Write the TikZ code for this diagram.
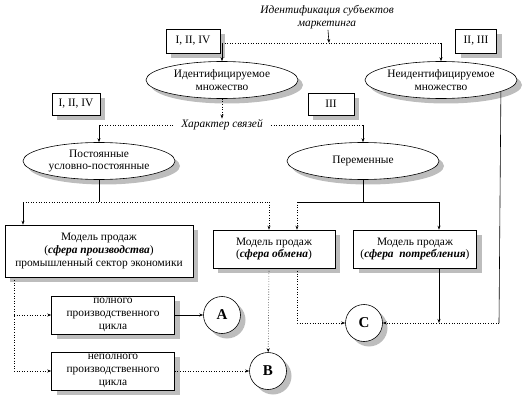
\documentclass[tikz,border=0pt]{standalone}
\usepackage{fontspec}
\setmainfont{Liberation Serif}
\usetikzlibrary{positioning,arrows.meta,shapes.geometric,shadows,calc}
\definecolor{ink}{HTML}{000000}
\definecolor{shadowgray}{HTML}{BDBDBD}
\tikzset{
  font=\fontsize{11.4}{12.6}\selectfont,
  >={Stealth[length=4pt,width=3pt]},
  flow/.style={->, line width=0.6pt, draw=ink},
  dflow/.style={flow, dotted},
  link/.style={line width=0.6pt, draw=ink},
  dlink/.style={link, dotted},
  castshadow/.style={drop shadow={shadow xshift=5pt, shadow yshift=-5pt, fill=shadowgray, opacity=1}},
  box/.style={draw=ink, line width=0.6pt, fill=white, align=center, inner sep=1pt, castshadow},
  tagbox/.style={box, minimum height=24pt},
  set/.style={ellipse, draw=ink, line width=0.6pt, fill=white, align=center, inner sep=0pt,
              minimum width=152pt, minimum height=37pt, castshadow},
  hub/.style={circle, draw=ink, line width=0.6pt, fill=white, minimum size=37pt, inner sep=0pt,
              font=\fontsize{15}{17}\selectfont\bfseries, castshadow},
  note/.style={font=\fontsize{11.4}{12.6}\selectfont\itshape, align=center, inner sep=1pt},
}
\newcommand{\sph}[1]{(\textbf{\textit{#1}})}

\begin{document}
\begin{tikzpicture}[x=1pt, y=-1pt]
\useasboundingbox (0,0) rectangle (525,409);

% --- subjects of marketing ---------------------------------------------------------------
\node[note] (subj) at (327,17) {Идентификация субъектов\\маркетинга};
\node[tagbox, minimum width=54pt] (tagA) at (193,41) {I, II, IV};
\node[tagbox, minimum width=41pt] (tagB) at (476,41) {II, III};
\node[set] (idset) at (222,80) {Идентифицируемое\\множество};
\node[set] (nidset) at (441,80) {Неидентифицируемое\\множество};

% --- character of links ------------------------------------------------------------------
\node[tagbox, minimum width=48pt, minimum height=22pt] (tagC) at (76,104) {I, II, IV};
\node[tagbox, minimum width=46pt, minimum height=22pt] (tagD) at (331,104) {III};
\node[note, inner xsep=8pt] (links) at (222,125) {Характер связей};
\node[set] (const) at (99,161) {Постоянные\\условно-постоянные};
\node[set] (var) at (363,161) {Переменные};

% --- sales models ------------------------------------------------------------------------
\node[box, minimum width=188pt, minimum height=52pt] (prod) at (99,251)
  {Модель продаж\\\sph{сфера производства}\\промышленный сектор экономики};
\node[box, minimum width=122pt, minimum height=38pt] (exch) at (274,249)
  {Модель продаж\\\sph{сфера обмена}};
\node[box, minimum width=123pt, minimum height=38pt] (cons) at (415,249)
  {Модель продаж\\\sph{сфера\enspace потребления}};
\node[box, minimum width=123pt, minimum height=38pt] (full) at (113,315)
  {полного\\производственного\\цикла};
\node[box, minimum width=123pt, minimum height=38pt] (part) at (113,371)
  {неполного\\производственного\\цикла};
\node[hub] (hA) at (222,315) {A};
\node[hub] (hB) at (268,371) {B};
\node[hub] (hC) at (364,323) {C};

% --- top split ---------------------------------------------------------------------------
\coordinate (topbus) at (329,43);
\draw[flow] (subj) -- (topbus);
\draw[dlink] (idset.north |- topbus) -- (nidset.north |- topbus);
\draw[flow] (idset.north |- topbus) -- (idset.north);
\draw[flow] (nidset.north |- topbus) -- (nidset.north);

% --- second split ------------------------------------------------------------------------
\draw[dflow] (idset) -- (links);
\draw[dlink] (links.west) -- (const.north |- links.west);
\draw[dlink] (links.east) -- (var.north |- links.east);
\draw[flow] (const.north |- links.west) -- (const.north);
\draw[flow] (var.north |- links.east) -- (var.north);

% --- to the sales models -----------------------------------------------------------------
\coordinate (lbus) at (99,202);
\coordinate (lfork) at (23,202);
\coordinate (rfork) at (269,202);
\draw[link] (const) -- (lbus);
\draw[dlink] (lfork) -- (rfork);
\draw[flow] (lfork) -- (lfork |- prod.north);
\draw[dflow] (rfork) -- (rfork |- exch.north);
\coordinate (vbus) at (363,202);
\coordinate (vl) at (297,202);
\coordinate (vr) at (439,202);
\draw[link] (var) -- (vbus);
\draw[link] (vl) -- (vr);
\draw[dflow] (vl) -- (vl |- exch.north);
\draw[flow] (vr) -- (vr |- cons.north);

% --- production cycle --------------------------------------------------------------------
\coordinate (pdrop) at (14,0);
\draw[dlink] (pdrop |- prod.south) -- (pdrop |- part.west);
\draw[dflow] (pdrop |- full.west) -- (full.west);
\draw[dflow] (pdrop |- part.west) -- (part.west);
\draw[flow] (full) -- (hA);
\draw[dflow] (part) -- (hB);
\draw[dflow] (rfork |- exch.south) -- (hB);

% --- exchange and consumption to C -------------------------------------------------------
\draw[dflow] (vl |- exch.south) |- (hC.west);
\coordinate (rc) at (499,0);
\draw[link] (nidset.-11) -- (rc |- hC.east);
\draw[dflow] (rc |- hC.east) -- (hC.east);
\draw[flow] (vr |- cons.south) -- (vr |- hC.east);

\end{tikzpicture}
\end{document}
